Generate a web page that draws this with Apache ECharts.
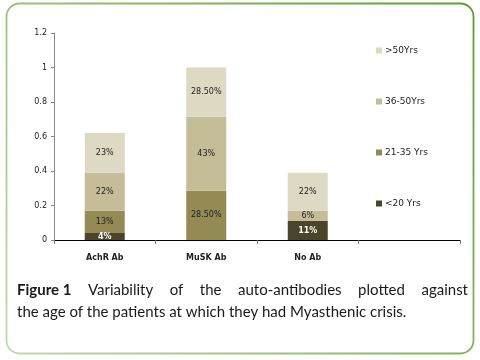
<!DOCTYPE html>
<html>
<head>
<meta charset="utf-8">
<script src="https://cdn.jsdelivr.net/npm/echarts@6/dist/echarts.min.js"></script>
<style>html,body{margin:0;padding:0;background:#fff}#c{width:480px;height:360px}</style>
</head>
<body>
<div id="c"></div>
<script>
var categories = ['AchR Ab', 'MuSK Ab', 'No Ab', ''];
var seriesNames = ['<20 Yrs', '21-35 Yrs', '36-50Yrs', '>50Yrs'];
var under20 = [0.04, 0, 0.11, null];
var age21to35 = [0.13, 0.285, 0, null];
var age36to50 = [0.22, 0.43, 0.06, null];
var over50 = [0.23, 0.285, 0.22, null];
var labelsUnder20 = ['4%', '', '11%', ''];
var labels21to35 = ['13%', '28.50%', '', ''];
var labels36to50 = ['22%', '43%', '6%', ''];
var labelsOver50 = ['23%', '28.50%', '22%', ''];
var yTicks = [0, 0.2, 0.4, 0.6, 0.8, 1, 1.2];
var captionLine1 = ['Figure 1', 'Variability', 'of', 'the', 'auto-antibodies', 'plotted', 'against'];
var captionLine2 = 'the age of the patients at which they had Myasthenic crisis.';

var colors = ['#4a452a', '#948a54', '#c4bd97', '#ddd9c3'];
var values = [under20, age21to35, age36to50, over50];
var labels = [labelsUnder20, labels21to35, labels36to50, labelsOver50];

var capFont = 'Lato';
var capSize = 15;
var ctx = document.createElement('canvas').getContext('2d');
function w(t, bold) { ctx.font = (bold ? 'bold ' : '') + capSize + 'px ' + capFont; return ctx.measureText(t).width; }
var left = 17, right = 468;
var total = 0;
captionLine1.forEach(function (t, i) { total += w(t, i === 0); });
var gap = (right - left - total) / (captionLine1.length - 1);
var capEls = [];
var x = left;
captionLine1.forEach(function (t, i) {
  capEls.push({ type: 'text', x: x, y: 290, style: { text: t, font: (i === 0 ? 'bold ' : '') + capSize + 'px ' + capFont, fill: '#1a1a1a', textVerticalAlign: 'middle' } });
  x += w(t, i === 0) + gap;
});
capEls.push({ type: 'text', x: left, y: 312, style: { text: captionLine2, font: capSize + 'px ' + capFont, fill: '#1a1a1a', textVerticalAlign: 'middle' } });

var chart = echarts.init(document.getElementById('c'));
var series = values.map(function (v, si) {
  return {
    name: seriesNames[si],
    type: 'bar',
    stack: 'total',
    barWidth: 40,
    data: v,
    itemStyle: { color: colors[si] },
    label: {
      show: true,
      position: 'inside',
      fontFamily: 'DejaVu Sans',
      fontSize: 8,
      fontWeight: si === 0 ? 'bold' : 'normal',
      color: si === 0 ? '#ffffff' : '#222222',
      formatter: function (p) { return labels[si][p.dataIndex]; }
    }
  };
});

chart.setOption({
  animation: false,
  color: colors,
  grid: { left: 54, right: 20, top: 33, bottom: 120, containLabel: false },
  legend: {
    orient: 'vertical',
    left: 371,
    top: 41,
    itemWidth: 6,
    itemHeight: 6,
    itemGap: 42,
    icon: 'rect',
    data: seriesNames.slice().reverse(),
    textStyle: { fontFamily: 'DejaVu Sans', fontSize: 9, color: '#222', padding: [0, 0, 0, -2] }
  },
  xAxis: {
    type: 'category',
    data: categories,
    axisLine: { lineStyle: { color: '#000', width: 1 } },
    axisTick: { show: true, alignWithLabel: false, length: 4, lineStyle: { color: '#777' } },
    axisLabel: { fontFamily: 'DejaVu Sans', fontSize: 8, fontWeight: 'bold', color: '#222', margin: 14 }
  },
  yAxis: {
    type: 'value',
    min: 0,
    max: 1.2,
    interval: 0.2,
    splitLine: { show: false },
    axisLine: { show: true, lineStyle: { color: '#888' } },
    axisTick: { show: true, length: 3, lineStyle: { color: '#888' } },
    axisLabel: { fontFamily: 'DejaVu Sans', fontSize: 8, color: '#222', margin: 7,
      formatter: function (v) { var t = yTicks.filter(function (k) { return Math.abs(k - v) < 1e-6; })[0]; return t === undefined ? '' : String(t); } }
  },
  series: series,
  graphic: [
    {
      type: 'rect', shape: { x: 6.5, y: 3.5, width: 467, height: 350, r: 13 },
      style: { fill: 'none', lineWidth: 1.8,
        stroke: { type: 'linear', x: 1, y: 0, x2: 0, y2: 1, colorStops: [{ offset: 0, color: '#5d9e2c' }, { offset: 1, color: '#c3d8ad' }] } }
    }
  ].concat(capEls)
});
</script>
</body>
</html>
